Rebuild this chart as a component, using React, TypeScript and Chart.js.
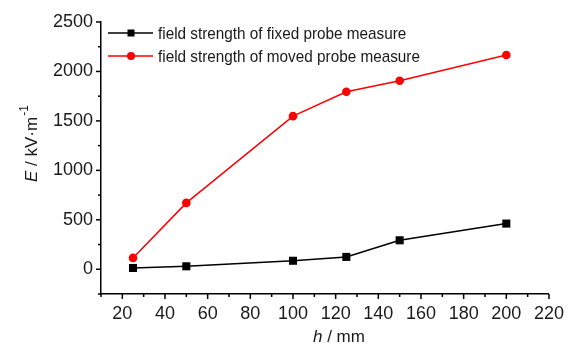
import React, { useEffect, useRef } from 'react';
import { Chart, registerables } from 'chart.js';

Chart.register(...registerables);

const heights = [25, 50, 100, 125, 150, 200];
const fixedProbe = [13, 30, 86, 125, 293, 462];
const movedProbe = [115, 671, 1548, 1794, 1906, 2166];
const seriesLabels = ['field strength of fixed probe measure', 'field strength of moved probe measure'];
const xTickValues = [10, 20, 30, 40, 50, 60, 70, 80, 90, 100, 110, 120, 130, 140, 150, 160, 170, 180, 190, 200, 210, 220];
const yTickValues = [-250, 0, 250, 500, 750, 1000, 1250, 1500, 1750, 2000, 2250, 2500];

const FONT = 'Liberation Sans, Arial, sans-serif';
const TEXT = '#1a1a1a';

const decorPlugin = {
  id: 'decor',
  afterDraw(chart: any) {
    const ctx = chart.ctx as CanvasRenderingContext2D;
    const xs = chart.scales.x;
    const ys = chart.scales.y;
    const area = chart.chartArea;
    ctx.save();
    ctx.strokeStyle = '#000';
    ctx.lineWidth = 1.5;
    xTickValues.forEach((v) => {
      const px = xs.getPixelForValue(v);
      const len = v % 20 === 0 ? 5 : 3;
      ctx.beginPath();
      ctx.moveTo(px, area.bottom);
      ctx.lineTo(px, area.bottom + len);
      ctx.stroke();
    });
    yTickValues.forEach((v) => {
      const py = ys.getPixelForValue(v);
      const len = v % 500 === 0 ? 5 : 3;
      ctx.beginPath();
      ctx.moveTo(area.left, py);
      ctx.lineTo(area.left - len, py);
      ctx.stroke();
    });

    ctx.fillStyle = TEXT;
    ctx.textBaseline = 'alphabetic';
    ctx.textAlign = 'left';
    let x0 = 313;
    const yb = 342;
    ctx.font = `italic 17px ${FONT}`;
    ctx.fillText('h', x0, yb);
    x0 += ctx.measureText('h').width;
    ctx.font = `17px ${FONT}`;
    ctx.fillText(' / mm', x0, yb);

    ctx.save();
    ctx.translate(37, 182);
    ctx.rotate(-Math.PI / 2);
    let tx = 0;
    ctx.font = `italic 17px ${FONT}`;
    ctx.fillText('E', tx, 0);
    tx += ctx.measureText('E').width;
    ctx.font = `17px ${FONT}`;
    ctx.fillText(' / kV·m', tx, 0);
    tx += ctx.measureText(' / kV·m').width + 1;
    ctx.font = `12px ${FONT}`;
    ctx.fillText('-1', tx, -9);
    ctx.restore();

    const rows = [33, 56];
    chart.data.datasets.forEach((ds: any, i: number) => {
      const y = rows[i];
      ctx.strokeStyle = ds.borderColor;
      ctx.lineWidth = 1.5;
      ctx.beginPath();
      ctx.moveTo(108, y);
      ctx.lineTo(153, y);
      ctx.stroke();
      ctx.fillStyle = ds.backgroundColor;
      if (ds.pointStyle === 'rect') {
        ctx.fillRect(131 - 3.5, y - 3.5, 7, 7);
      } else {
        ctx.beginPath();
        ctx.arc(131, y, 4, 0, Math.PI * 2);
        ctx.fill();
      }
      ctx.save();
      ctx.translate(158, y);
      ctx.scale(0.9, 1);
      ctx.fillStyle = TEXT;
      ctx.font = `17px ${FONT}`;
      ctx.textBaseline = 'middle';
      ctx.fillText(ds.label, 0, 1);
      ctx.restore();
    });
    ctx.restore();
  },
};

export default function App() {
  const ref = useRef<HTMLCanvasElement | null>(null);
  useEffect(() => {
    document.body.style.margin = '0';
    if (!ref.current) return;
    const chart = new Chart(ref.current, {
      type: 'line',
      data: {
        datasets: [
          {
            label: seriesLabels[0],
            data: heights.map((h, i) => ({ x: h, y: fixedProbe[i] })),
            borderColor: '#000000',
            backgroundColor: '#000000',
            borderWidth: 1.5,
            pointStyle: 'rect',
            pointRadius: 5.7,
            pointHoverRadius: 5.7,
            pointBorderWidth: 0,
          },
          {
            label: seriesLabels[1],
            data: heights.map((h, i) => ({ x: h, y: movedProbe[i] })),
            borderColor: '#ff0000',
            backgroundColor: '#ff0000',
            borderWidth: 1.5,
            pointStyle: 'circle',
            pointRadius: 4.3,
            pointHoverRadius: 4.3,
            pointBorderWidth: 0,
          },
        ],
      },
      options: {
        animation: false,
        responsive: false,
        layout: { padding: { top: 22, right: 17, left: 0, bottom: 0 } },
        plugins: { legend: { display: false }, tooltip: { enabled: false } },
        scales: {
          x: {
            type: 'linear',
            min: 10,
            max: 220,
            afterFit: (s: any) => { s.height = 50; },
            grid: { display: true, drawOnChartArea: false, drawTicks: false },
            border: { display: true, color: '#000', width: 1.5 },
            ticks: {
              stepSize: 10,
              autoSkip: false,
              maxRotation: 0,
              padding: 9,
              color: TEXT,
              font: { family: FONT, size: 18 },
              callback: (v: any) => (Number(v) % 20 === 0 ? String(v) : ''),
            },
          },
          y: {
            type: 'linear',
            min: -250,
            max: 2500,
            afterFit: (s: any) => { s.width = 101; },
            grid: { display: true, drawOnChartArea: false, drawTicks: false },
            border: { display: true, color: '#000', width: 1.5 },
            ticks: {
              stepSize: 250,
              autoSkip: false,
              padding: 8,
              color: TEXT,
              font: { family: FONT, size: 18 },
              callback: (v: any) => (Number(v) % 500 === 0 ? String(v) : ''),
            },
          },
        },
      },
      plugins: [decorPlugin],
    });
    return () => chart.destroy();
  }, []);
  return (
    <div style={{ width: 573, height: 344 }}>
      <canvas ref={ref} width={573} height={344} style={{ width: 573, height: 344, display: 'block' }} />
    </div>
  );
}
